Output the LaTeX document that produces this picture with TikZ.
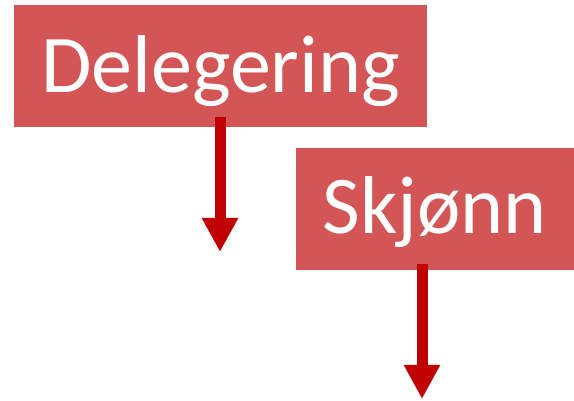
\documentclass[tikz,border=0pt]{standalone}
\usepackage{fontspec}
\setmainfont{Carlito}
\usetikzlibrary{arrows.meta}
\definecolor{boxred}{RGB}{212,85,85}
\definecolor{arrred}{RGB}{192,0,0}
\begin{document}
\begin{tikzpicture}[x=1pt,y=1pt,
  redbox/.style={fill=boxred, text=white, inner sep=0pt, font=\fontsize{82}{90}\selectfont, text depth=0pt},
  downarrow/.style={draw=arrred, line width=11pt, -{Triangle[width=34pt,length=34pt]}}]
\useasboundingbox (0,0) rectangle (574,401);
\node[redbox, minimum width=413pt, minimum height=122pt, text height=54pt] (d) at (220.5,335) {Delegering};
\node[redbox, minimum width=278pt, minimum height=122pt, text height=49pt] (s) at (435,192) {Skjønn};
\coordinate (t1) at (220,149);
\coordinate (t2) at (422,2);
\draw[downarrow] ([xshift=-0.5pt,yshift=10pt]d.south) -- (t1);
\draw[downarrow] ([xshift=-13pt,yshift=6pt]s.south) -- (t2);
\end{tikzpicture}
\end{document}
